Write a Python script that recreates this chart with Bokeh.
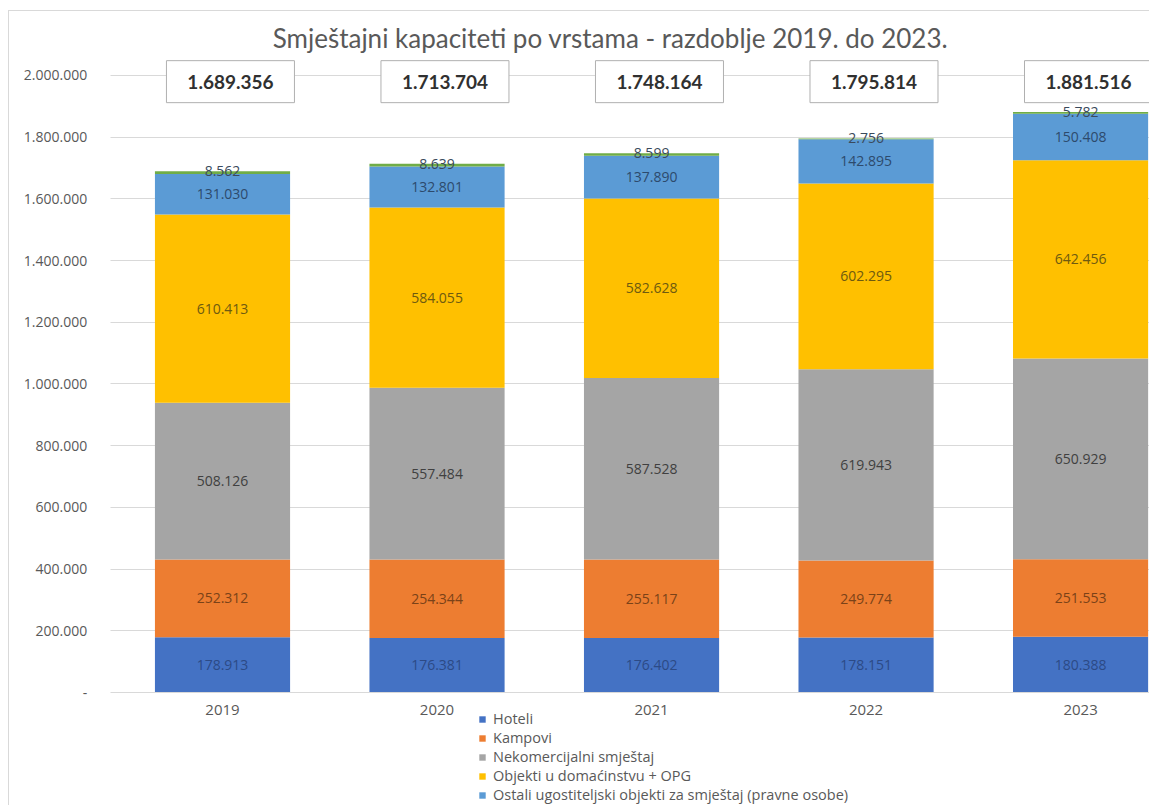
import numpy as np
from bokeh.plotting import figure
from bokeh.models import Range1d, FixedTicker, Legend, LegendItem, Label, ColumnDataSource
from bokeh.core.properties import value
from bokeh.embed import file_html
from bokeh.resources import INLINE

# ---- data ----
years = ["2019", "2020", "2021", "2022", "2023"]
hoteli = [178913, 176381, 176402, 178151, 180388]
kampovi = [252312, 254344, 255117, 249774, 251553]
nekomercijalni = [508126, 557484, 587528, 619943, 650929]
objekti = [610413, 584055, 582628, 602295, 642456]
ostali = [131030, 132801, 137890, 142895, 150408]
ostalo = [8562, 8639, 8599, 2756, 5782]
totals = [1689356, 1713704, 1748164, 1795814, 1881516]
series_names = ["Hoteli", "Kampovi", "Nekomercijalni smještaj",
                "Objekti u domaćinstvu + OPG",
                "Ostali ugostiteljski objekti za smještaj (pravne osobe)",
                "Ostalo"]
y_ticks = [0, 200000, 400000, 600000, 800000, 1000000, 1200000, 1400000,
           1600000, 1800000, 2000000]
y_tick_labels = ["-", "200.000", "400.000", "600.000", "800.000", "1.000.000",
                 "1.200.000", "1.400.000", "1.600.000", "1.800.000", "2.000.000"]
title_text = "Smještajni kapaciteti po vrstama - razdoblje 2019. do 2023."

colors = ["#4472C4", "#ED7D31", "#A5A5A5", "#FFC000", "#5B9BD5", "#70AD47"]
label_colors = ["#2c4a86", "#7a4218", "#404040", "#6e5a10", "#2d4a6c", "#3a4a5c"]


def fmt(v):
    return f"{v:,}".replace(",", ".")


idx = np.arange(len(years))
series = [hoteli, kampovi, nekomercijalni, objekti, ostali, ostalo]

p = figure(width=1141, height=795, output_backend="svg", toolbar_location=None,
           title=None,
           x_range=Range1d(-0.993, 4.326), y_range=Range1d(-369530, 2207455),
           min_border_left=0, min_border_right=0, min_border_top=0,
           min_border_bottom=0)
p.styles = {"margin-left": "8px", "margin-top": "10px",
            "border-left": "1px solid #d9d9d9", "border-top": "1px solid #d9d9d9"}
p.outline_line_color = None
p.background_fill_color = "white"

bottom = np.zeros(len(years))
renderers = []
for i, (vals, name) in enumerate(zip(series, series_names)):
    vals = np.array(vals, dtype=float)
    top = bottom + vals
    src = ColumnDataSource(dict(x=idx, bottom=bottom, top=top,
                                mid=(bottom + top) / 2 if i < 5 else top,
                                lab=[fmt(int(v)) for v in vals]))
    r = p.vbar(x="x", bottom="bottom", top="top", width=0.63, source=src,
               fill_color=colors[i], line_color=None)
    renderers.append(r)
    p.text(x="x", y="mid", text="lab", source=src, text_align="center",
           text_baseline="middle", text_font=value("Open Sans"),
           text_font_size="14px", text_color=label_colors[i])
    bottom = top

# total boxes
tsrc = ColumnDataSource(dict(x=idx + 0.037, y=[1980000] * len(totals),
                             lab=[fmt(t) for t in totals]))
p.rect(x="x", y="y", width=128, height=42, width_units="screen",
       height_units="screen", source=tsrc, fill_color="white",
       line_color="#b0b0b0", line_width=1)
p.text(x="x", y="y", text="lab", source=tsrc, text_align="center",
       text_baseline="middle", text_font=value("Lato"),
       text_font_size="19px", text_font_style="bold", text_color="#303030")

# axes (fixed in place, no side-panel space)
p.xaxis.fixed_location = 0
p.xaxis.bounds = (-0.5, 4.326)
p.xaxis.ticker = FixedTicker(ticks=list(idx))
p.xaxis.major_label_overrides = {int(i): y for i, y in zip(idx, years)}
p.xaxis.axis_line_color = "#d9d9d9"
p.xaxis.major_tick_line_color = None
p.xaxis.major_tick_out = 0
p.xaxis.major_tick_in = 0
p.xaxis.minor_tick_line_color = None
p.xaxis.major_label_text_color = "#595959"
p.xaxis.major_label_text_font = "Open Sans"
p.xaxis.major_label_text_font_size = "15px"
p.xaxis.major_label_standoff = 12

p.yaxis.fixed_location = -0.5
p.yaxis.ticker = FixedTicker(ticks=y_ticks)
p.yaxis.major_label_overrides = {t: l for t, l in zip(y_ticks, y_tick_labels)}
p.yaxis.axis_line_color = None
p.yaxis.major_tick_line_color = None
p.yaxis.major_tick_out = 0
p.yaxis.major_tick_in = 0
p.yaxis.minor_tick_line_color = None
p.yaxis.major_label_text_color = "#595959"
p.yaxis.major_label_text_font = "Open Sans"
p.yaxis.major_label_text_font_size = "14px"
p.yaxis.major_label_standoff = 28

p.xgrid.grid_line_color = None
p.ygrid.ticker = FixedTicker(ticks=y_ticks)
p.ygrid.grid_line_color = "#d9d9d9"
p.ygrid.cross_bounds = (-0.52, 4.326)

# title
p.add_layout(Label(x=601, y=769, x_units="screen", y_units="screen",
                   text=title_text, text_align="center",
                   text_baseline="middle", text_font="Lato",
                   text_font_size="26px", text_color="#595959"))

# legend
legend = Legend(items=[LegendItem(label=series_names[i], renderers=[renderers[i]])
                       for i in range(5)],
                location=(469, 2), orientation="vertical",
                glyph_width=8, glyph_height=8, label_height=18,
                label_text_font="Open Sans", label_text_font_size="14.5px",
                label_text_color="#595959", border_line_color=None,
                background_fill_alpha=0, padding=0, spacing=0, margin=0,
                label_standoff=7)
p.add_layout(legend)

open("out.html", "w").write(file_html(p, INLINE))
